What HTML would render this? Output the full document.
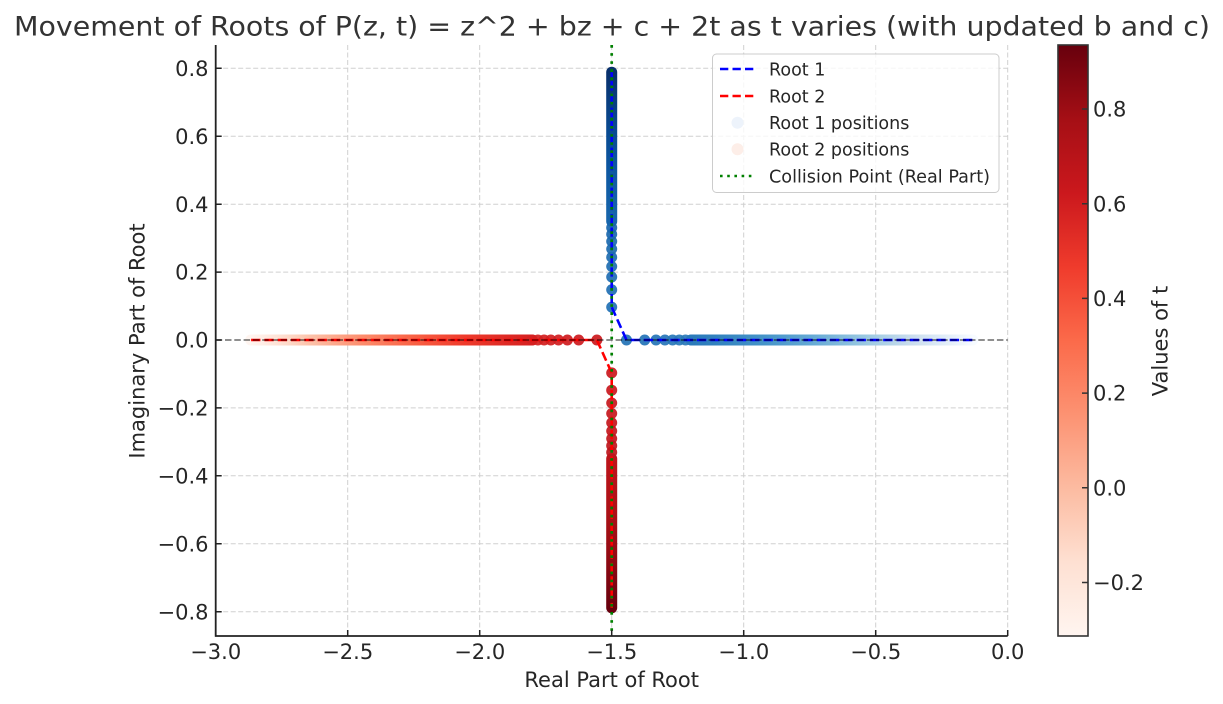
<!DOCTYPE html>
<html><head><meta charset="utf-8"><style>
html,body{margin:0;padding:0;background:#fff;}
svg{display:block;}
text{font-family:"DejaVu Sans","Liberation Sans",sans-serif;fill:#262626;}
</style></head><body>
<svg width="1223" height="704" viewBox="0 0 1223 704" xmlns="http://www.w3.org/2000/svg">
<defs>
<linearGradient id="gbH" gradientUnits="userSpaceOnUse" x1="691.7" y1="0" x2="972.7" y2="0">
<stop offset="0" stop-color="#2b7bba"/><stop offset="0.071" stop-color="#3080bd"/><stop offset="0.249" stop-color="#4493c7"/><stop offset="0.427" stop-color="#65aad4"/><stop offset="0.605" stop-color="#97c7e0"/><stop offset="0.783" stop-color="#cadded"/><stop offset="0.89" stop-color="#dfecf7"/><stop offset="0.961" stop-color="#eef5fc"/><stop offset="1" stop-color="#f7fbff"/>
</linearGradient>
<linearGradient id="grH" gradientUnits="userSpaceOnUse" x1="531.7" y1="0" x2="250.7" y2="0">
<stop offset="0" stop-color="#d62222"/><stop offset="0.071" stop-color="#dc2824"/><stop offset="0.249" stop-color="#ef3d2d"/><stop offset="0.427" stop-color="#f96346"/><stop offset="0.605" stop-color="#fc8d6d"/><stop offset="0.783" stop-color="#fcc1a8"/><stop offset="0.89" stop-color="#fee0d2"/><stop offset="0.961" stop-color="#ffeee7"/><stop offset="1" stop-color="#fff5f0"/>
</linearGradient>
<linearGradient id="gbV" gradientUnits="userSpaceOnUse" x1="0" y1="221.4" x2="0" y2="72.2">
<stop offset="0" stop-color="#1765ab"/><stop offset="0.04" stop-color="#1664aa"/><stop offset="0.365" stop-color="#0c56a0"/><stop offset="0.616" stop-color="#084990"/><stop offset="0.829" stop-color="#083c7d"/><stop offset="1" stop-color="#08306b"/>
</linearGradient>
<linearGradient id="grV" gradientUnits="userSpaceOnUse" x1="0" y1="458.6" x2="0" y2="607.8">
<stop offset="0" stop-color="#bc141a"/><stop offset="0.04" stop-color="#bb131a"/><stop offset="0.365" stop-color="#ab1116"/><stop offset="0.616" stop-color="#960b13"/><stop offset="0.829" stop-color="#7d0510"/><stop offset="1" stop-color="#67000d"/>
</linearGradient>
<linearGradient id="gcb" x1="0" y1="1" x2="0" y2="0">
<stop offset="0" stop-color="#fff5f0"/><stop offset="0.125" stop-color="#fee0d2"/><stop offset="0.25" stop-color="#fcbba1"/><stop offset="0.375" stop-color="#fc9272"/><stop offset="0.5" stop-color="#fb6a4a"/><stop offset="0.625" stop-color="#ef3b2c"/><stop offset="0.75" stop-color="#cb181d"/><stop offset="0.875" stop-color="#a50f15"/><stop offset="1" stop-color="#67000d"/>
</linearGradient>
</defs>
<rect x="0" y="0" width="1223" height="704" fill="#fff"/>

<!-- title -->
<text x="14" y="35.5" font-size="26.5" textLength="1196" lengthAdjust="spacingAndGlyphs" style="fill:#333">Movement of Roots of P(z, t) = z^2 + bz + c + 2t as t varies (with updated b and c)</text>

<!-- grid -->
<g stroke="#d0d0d0" stroke-width="1" stroke-dasharray="5 2.5" fill="none">
<path d="M347.7 45V636M479.7 45V636M611.7 45V636M743.7 45V636M875.7 45V636M1007.7 45V636"/>
<path d="M215.7 68.3H1007.7M215.7 136.2H1007.7M215.7 204.2H1007.7M215.7 272.1H1007.7M215.7 407.9H1007.7M215.7 475.8H1007.7M215.7 543.8H1007.7M215.7 611.7H1007.7"/>
</g>

<!-- root 1 scatter -->
<rect x="685.7" y="334.5" width="292.5" height="11" rx="5.5" fill="url(#gbH)"/>
<g fill-opacity="0.92">
<circle cx="691.2" cy="340" r="5.5" fill="#2b7bba"/>
<circle cx="685.5" cy="340" r="5.5" fill="#2a7ab9"/>
<circle cx="679.3" cy="340" r="5.5" fill="#2878b8"/>
<circle cx="672.6" cy="340" r="5.5" fill="#2777b8"/>
<circle cx="664.9" cy="340" r="5.5" fill="#2675b7"/>
<circle cx="656.0" cy="340" r="5.5" fill="#2574b6"/>
<circle cx="644.7" cy="340" r="5.5" fill="#2373b6"/>
<circle cx="626.5" cy="340" r="5.5" fill="#2272b5"/>
<circle cx="611.7" cy="307.1" r="5.5" fill="#2070b4"/>
<circle cx="611.7" cy="289.8" r="5.5" fill="#1f6fb3"/>
<circle cx="611.7" cy="277" r="5.5" fill="#1e6db2"/>
<circle cx="611.7" cy="266.5" r="5.5" fill="#1d6cb1"/>
<circle cx="611.7" cy="257.2" r="5.5" fill="#1c6bb0"/>
<circle cx="611.7" cy="249" r="5.5" fill="#1b6aaf"/>
<circle cx="611.7" cy="241.4" r="5.5" fill="#1a68ae"/>
<circle cx="611.7" cy="234.3" r="5.5" fill="#1967ad"/>
<circle cx="611.7" cy="227.7" r="5.5" fill="#1866ac"/>
</g>
<rect x="606.2" y="66.7" width="11" height="160.2" rx="5.5" fill="url(#gbV)"/>

<!-- root 2 scatter -->
<rect x="245.2" y="334.5" width="292.5" height="11" rx="5.5" fill="url(#grH)"/>
<g fill-opacity="0.92">
<circle cx="532.2" cy="340" r="5.5" fill="#d62222"/>
<circle cx="537.9" cy="340" r="5.5" fill="#d42120"/>
<circle cx="544.1" cy="340" r="5.5" fill="#d31f20"/>
<circle cx="550.8" cy="340" r="5.5" fill="#d11e1f"/>
<circle cx="558.5" cy="340" r="5.5" fill="#d01d1f"/>
<circle cx="567.4" cy="340" r="5.5" fill="#ce1b1e"/>
<circle cx="578.7" cy="340" r="5.5" fill="#cd1a1e"/>
<circle cx="596.9" cy="340" r="5.5" fill="#cb191d"/>
<circle cx="611.7" cy="372.9" r="5.5" fill="#ca181d"/>
<circle cx="611.7" cy="390.2" r="5.5" fill="#c9171d"/>
<circle cx="611.7" cy="403" r="5.5" fill="#c7171c"/>
<circle cx="611.7" cy="413.5" r="5.5" fill="#c6171c"/>
<circle cx="611.7" cy="422.8" r="5.5" fill="#c4161b"/>
<circle cx="611.7" cy="431" r="5.5" fill="#c3161b"/>
<circle cx="611.7" cy="438.6" r="5.5" fill="#c1151b"/>
<circle cx="611.7" cy="445.7" r="5.5" fill="#bf151a"/>
<circle cx="611.7" cy="452.3" r="5.5" fill="#bd141a"/>
</g>
<rect x="606.2" y="453.1" width="11" height="160.2" rx="5.5" fill="url(#grV)"/>

<!-- root lines -->
<path d="M972.3 340H626.5L611.7 307.1V72.2" fill="none" stroke="#0000ff" stroke-width="2.6" stroke-dasharray="9.3 4"/>
<path d="M251.1 340H596.9L611.7 372.9V607.8" fill="none" stroke="#ff0000" stroke-width="2.6" stroke-dasharray="9.3 4"/>

<!-- axhline -->
<path d="M215.7 340H1007.7" fill="none" stroke="#000" stroke-opacity="0.5" stroke-width="1.8" stroke-dasharray="6.5 2.8"/>
<!-- collision line -->
<path d="M611.7 45V636" fill="none" stroke="#008000" stroke-width="2.7" stroke-dasharray="2.7 5.4"/>

<!-- spines -->
<path d="M215.7 45V636H1007.7" fill="none" stroke="#222" stroke-width="1.8"/>
<!-- ticks -->
<g stroke="#222" stroke-width="1.5">
<path d="M215.7 636v-6M347.7 636v-6M479.7 636v-6M611.7 636v-6M743.7 636v-6M875.7 636v-6M1007.7 636v-6"/>
<path d="M215.7 68.3h6M215.7 136.2h6M215.7 204.2h6M215.7 272.1h6M215.7 340h6M215.7 407.9h6M215.7 475.8h6M215.7 543.8h6M215.7 611.7h6"/>
</g>

<!-- x tick labels -->
<g font-size="21" text-anchor="middle">
<text x="215.7" y="658.8">−3.0</text>
<text x="347.7" y="658.8">−2.5</text>
<text x="479.7" y="658.8">−2.0</text>
<text x="611.7" y="658.8">−1.5</text>
<text x="743.7" y="658.8">−1.0</text>
<text x="875.7" y="658.8">−0.5</text>
<text x="1007.7" y="658.8">0.0</text>
</g>
<!-- y tick labels -->
<g font-size="21" text-anchor="end">
<text x="208.5" y="75.9">0.8</text>
<text x="208.5" y="143.8">0.6</text>
<text x="208.5" y="211.8">0.4</text>
<text x="208.5" y="279.7">0.2</text>
<text x="208.5" y="347.6">0.0</text>
<text x="208.5" y="415.5">−0.2</text>
<text x="208.5" y="483.4">−0.4</text>
<text x="208.5" y="551.4">−0.6</text>
<text x="208.5" y="619.3">−0.8</text>
</g>

<!-- axis labels -->
<text x="611.7" y="687" font-size="21" text-anchor="middle">Real Part of Root</text>
<text transform="translate(144.5 341) rotate(-90)" font-size="21" text-anchor="middle">Imaginary Part of Root</text>

<!-- legend -->
<rect x="712.5" y="54" width="286.5" height="138.5" rx="4" fill="#fff" fill-opacity="0.8" stroke="#cccccc" stroke-width="1"/>
<path d="M720 69H755" stroke="#0000ff" stroke-width="2.6" stroke-dasharray="8.3 4.2"/>
<path d="M720 96H755" stroke="#ff0000" stroke-width="2.6" stroke-dasharray="8.3 4.2"/>
<circle cx="737.5" cy="122.7" r="6" fill="#edf3fb"/>
<circle cx="737.5" cy="149.3" r="6" fill="#fdeee8"/>
<path d="M720 176H755" stroke="#008000" stroke-width="2.6" stroke-dasharray="2.6 4.6"/>
<g font-size="17.5" style="fill:#333">
<text x="769" y="75.3">Root 1</text>
<text x="769" y="102.3">Root 2</text>
<text x="769" y="129">Root 1 positions</text>
<text x="769" y="155.6">Root 2 positions</text>
<text x="769" y="182.3" textLength="221" lengthAdjust="spacingAndGlyphs">Collision Point (Real Part)</text>
</g>

<!-- colorbar -->
<rect x="1058" y="45" width="30" height="591" fill="url(#gcb)" stroke="#333" stroke-width="1.6"/>
<g stroke="#333" stroke-width="1.5">
<path d="M1088 109h-6M1088 203.7h-6M1088 298.4h-6M1088 393.1h-6M1088 487.8h-6M1088 582.5h-6"/>
</g>
<g font-size="21">
<text x="1093" y="116.6">0.8</text>
<text x="1093" y="211.3">0.6</text>
<text x="1093" y="306">0.4</text>
<text x="1093" y="400.7">0.2</text>
<text x="1093" y="495.4">0.0</text>
<text x="1093" y="590.1">−0.2</text>
</g>
<text transform="translate(1167.5 341) rotate(-90)" font-size="21" text-anchor="middle">Values of t</text>
</svg>
</body></html>
